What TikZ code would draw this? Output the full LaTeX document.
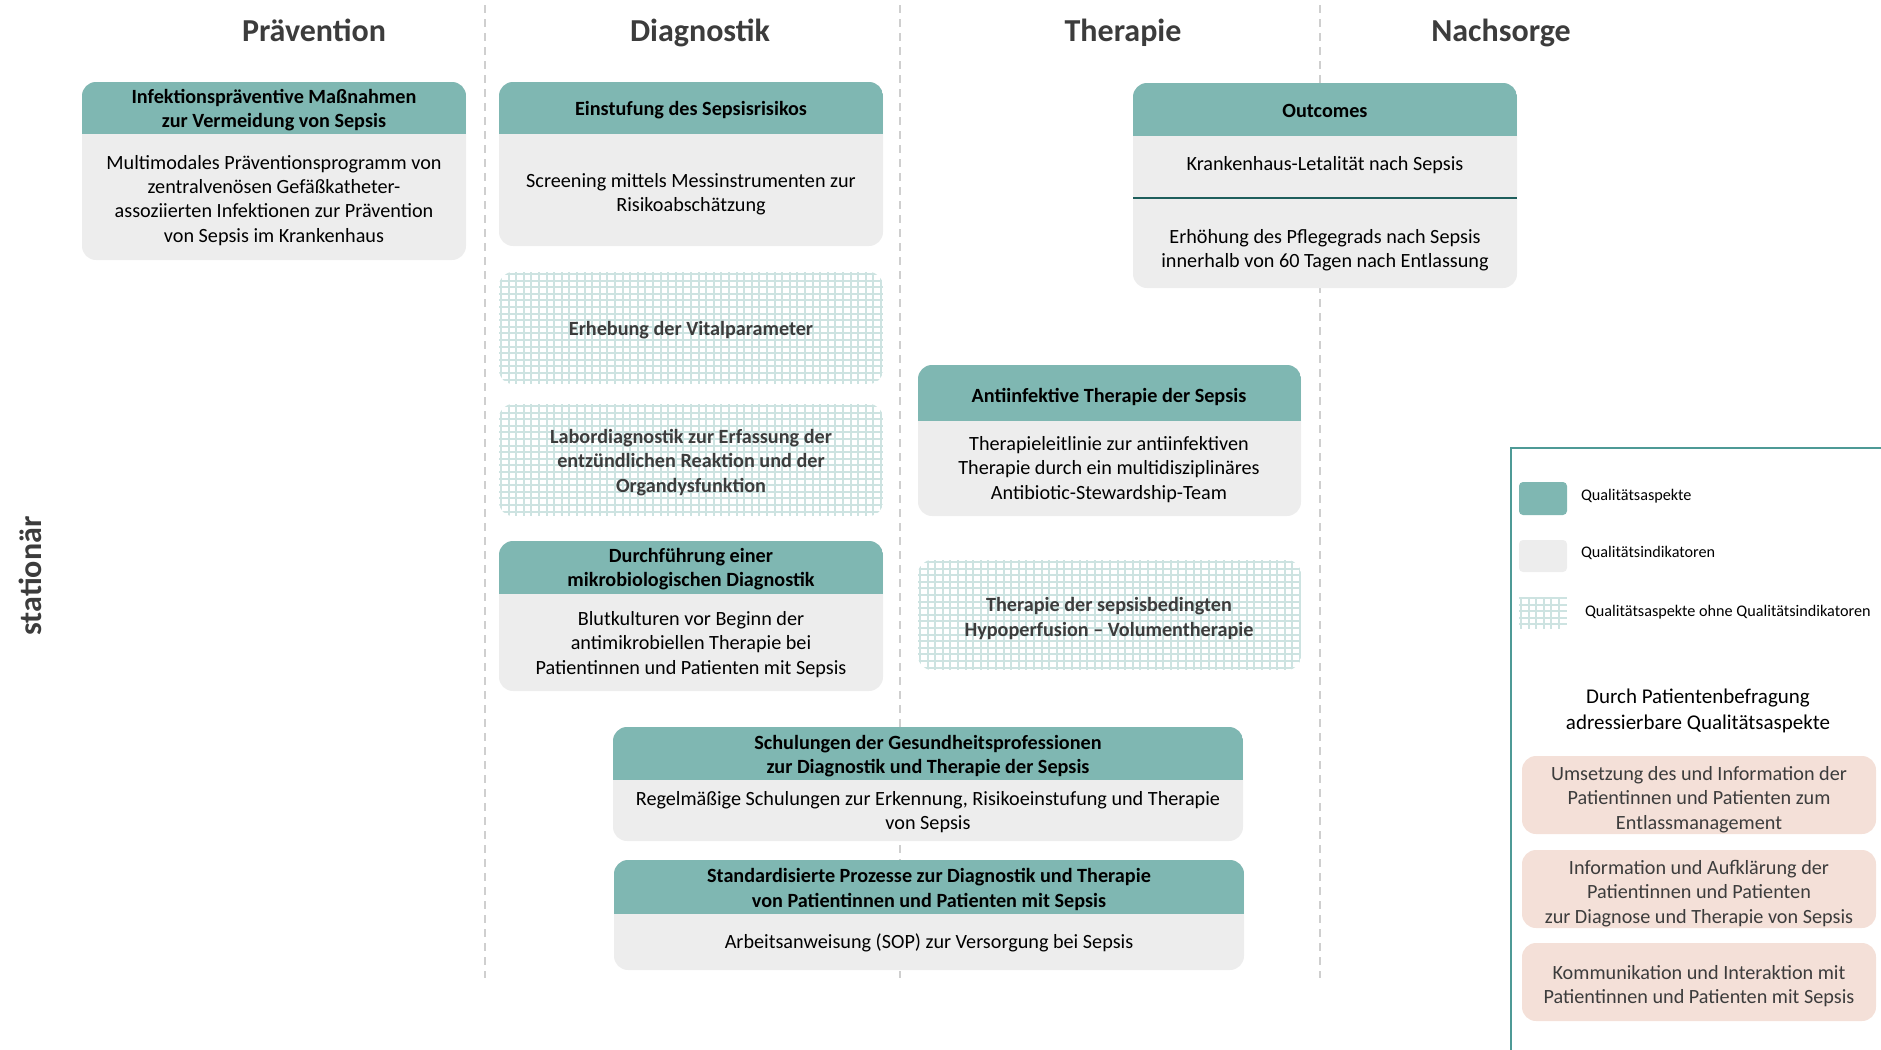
\documentclass[tikz,border=0pt]{standalone}
\usepackage{fontspec}
\setmainfont{Carlito}
\usepackage{xcolor}
\usepackage{tikz}

\definecolor{kopfteal}{HTML}{7FB7B2}
\definecolor{rumpfgrau}{HTML}{EDEDED}
\definecolor{gitterteal}{HTML}{CDE3E1}
\definecolor{rosa}{HTML}{F4E0D8}
\definecolor{rahmen}{HTML}{4E9A96}
\definecolor{trennlinie}{HTML}{1E5E5C}
\definecolor{dunkelgrau}{HTML}{3C3C3C}
\definecolor{strich}{HTML}{CFCFCF}

\begin{document}
\begin{tikzpicture}[x=0.5pt,y=-0.5pt,
	kopftext/.style={font=\fontsize{10.1}{12.2}\selectfont\bfseries, align=center, text=black, yshift=-1.2pt},
	rumpftext/.style={font=\fontsize{10.1}{12.2}\selectfont, align=center, text=black, yshift=-1.2pt},
	gittertext/.style={font=\fontsize{10.1}{12.2}\selectfont\bfseries, align=center, text=dunkelgrau, yshift=-1.2pt},
	pattext/.style={rumpftext, text=dunkelgrau},
	spalte/.style={font=\fontsize{16}{19}\selectfont\bfseries, text=dunkelgrau, anchor=base},
	legtext/.style={font=\fontsize{8.1}{9.5}\selectfont, anchor=west, text=black},
	trenner/.style={strich, line width=1pt, dash pattern=on 4pt off 3pt},
	gitter/.style={gitterteal, line width=1pt}]
\useasboundingbox (0,0) rectangle (1881,1050);

% Spaltentrenner
\foreach \x in {485,900,1320}{
	\draw[trenner] (\x,5)--(\x,978);
}

\node[spalte] (praevention) at (314,41.5) {Prävention};
\node[spalte] (diagnostik) at (700,41.5) {Diagnostik};
\node[spalte] (therapie) at (1123,41.5) {Therapie};
\node[spalte] (nachsorge) at (1501,41.5) {Nachsorge};
\node[spalte, rotate=90, anchor=center] (stationaer) at (30,576) {stationär};

% Kästen mit Kopf und Rumpf
\foreach \l/\r/\o/\k/\u in {82/466/82/134/260, 499/883/82/134/246, 499/883/541/594/691,
	1133/1517/83/136/288, 918/1301/365/421/516, 613/1243/727/780/841, 614/1244/860/914/970}{
	\fill[rumpfgrau, rounded corners=7pt] (\l,\o) rectangle (\r,\u);
	\begin{scope}
		\clip[rounded corners=7pt] (\l,\o) rectangle (\r,\u);
		\fill[kopfteal] (\l,\o) rectangle (\r,\k);
	\end{scope}
}
\draw[trennlinie, line width=1pt] (1133,198)--(1517,198);

% Kästen ohne Indikatoren
\foreach \l/\r/\o/\u in {499/883/272/384, 499/883/404/516, 918/1301/560/670}{
	\begin{scope}
		\clip[rounded corners=7pt] (\l,\o) rectangle (\r,\u);
		\foreach \x in {2,9.6,...,390}{
			\draw[gitter] (\l+\x,\o)--(\l+\x,\u);
		}
		\foreach \y in {2,8.6,...,115}{
			\draw[gitter] (\l,\o+\y)--(\r,\o+\y);
		}
	\end{scope}
}

\node[kopftext] (praevKopf) at (274,108) {Infektionspräventive Maßnahmen\\zur Vermeidung von Sepsis};
\node[rumpftext] (praevText) at (274,198) {Multimodales Präventionsprogramm von\\zentralvenösen Gefäßkatheter-\\assoziierten Infektionen zur Prävention\\von Sepsis im Krankenhaus};

\node[kopftext] (einstKopf) at (691,108) {Einstufung des Sepsisrisikos};
\node[rumpftext] (einstText) at (691,192) {Screening mittels Messinstrumenten zur\\Risikoabschätzung};

\node[gittertext] (vital) at (691,328) {Erhebung der Vitalparameter};
\node[gittertext] (labor) at (691,460) {Labordiagnostik zur Erfassung der\\entzündlichen Reaktion und der\\Organdysfunktion};

\node[kopftext] (mikroKopf) at (691,567) {Durchführung einer\\mikrobiologischen Diagnostik};
\node[rumpftext] (mikroText) at (691,642) {Blutkulturen vor Beginn der\\antimikrobiellen Therapie bei\\Patientinnen und Patienten mit Sepsis};

\node[kopftext] (outKopf) at (1325,109) {Outcomes};
\node[rumpftext] (outText) at (1325,163) {Krankenhaus-Letalität nach Sepsis};
\node[rumpftext] (pflegeText) at (1325,248) {Erhöhung des Pflegegrads nach Sepsis\\innerhalb von 60 Tagen nach Entlassung};

\node[kopftext] (antiKopf) at (1109,395) {Antiinfektive Therapie der Sepsis};
\node[rumpftext] (antiText) at (1109,467) {Therapieleitlinie zur antiinfektiven\\Therapie durch ein multidisziplinäres\\Antibiotic-Stewardship-Team};

\node[gittertext] (volumen) at (1109,616) {Therapie der sepsisbedingten\\Hypoperfusion -- Volumentherapie};

\node[kopftext] (schulKopf) at (928,754) {Schulungen der Gesundheitsprofessionen\\zur Diagnostik und Therapie der Sepsis};
\node[rumpftext] (schulText) at (928,810) {Regelmäßige Schulungen zur Erkennung, Risikoeinstufung und Therapie\\von Sepsis};

\node[kopftext] (sopKopf) at (929,887) {Standardisierte Prozesse zur Diagnostik und Therapie\\von Patientinnen und Patienten mit Sepsis};
\node[rumpftext] (sopText) at (929,940) {Arbeitsanweisung (SOP) zur Versorgung bei Sepsis};

% Legende
\draw[rahmen, line width=1pt] (1881,448)--(1511,448)--(1511,1050);
\fill[kopfteal, rounded corners=2pt] (1519,482) rectangle (1567,515);
\fill[rumpfgrau, rounded corners=2pt] (1519,540) rectangle (1567,572);
\foreach \x in {1,8.6,...,45}{
	\draw[gitter] (1520+\x,597)--(1520+\x,629);
}
\foreach \y in {1,7.6,...,32}{
	\draw[gitter] (1519,597+\y)--(1567,597+\y);
}
\node[legtext] (legAspekt) at (1574,496) {Qualitätsaspekte};
\node[legtext] (legIndikator) at (1574,553) {Qualitätsindikatoren};
\node[legtext] (legOhne) at (1578,612) {Qualitätsaspekte ohne Qualitätsindikatoren};

\node[font=\fontsize{10.5}{13}\selectfont, align=center] (befragung) at (1698,711) {Durch Patientenbefragung\\adressierbare Qualitätsaspekte};
\foreach \o/\u in {756/834, 850/928, 943/1021}{
	\fill[rosa, rounded corners=7pt] (1522,\o) rectangle (1876,\u);
}
\node[pattext] (pat1) at (1699,797) {Umsetzung des und Information der\\Patientinnen und Patienten zum\\Entlassmanagement};
\node[pattext] (pat2) at (1699,891) {Information und Aufklärung der\\Patientinnen und Patienten\\zur Diagnose und Therapie von Sepsis};
\node[pattext] (pat3) at (1699,984) {Kommunikation und Interaktion mit\\Patientinnen und Patienten mit Sepsis};

\end{tikzpicture}
\end{document}
